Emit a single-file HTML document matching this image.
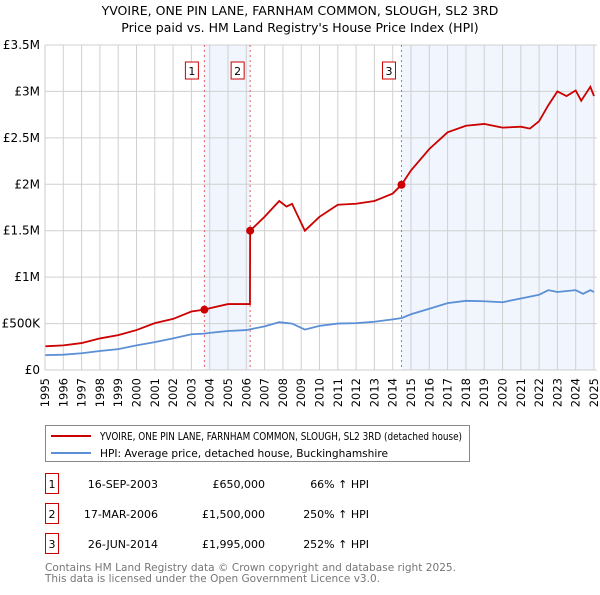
<!DOCTYPE html>
<html><head><meta charset="utf-8"><style>
body{margin:0;background:#fff;font-family:"Liberation Sans","DejaVu Sans",sans-serif}
svg text{font-family:"DejaVu Sans","Liberation Sans",sans-serif}
</style></head><body>
<svg id="c" width="600" height="590" xmlns="http://www.w3.org/2000/svg">
<text x="300" y="15" text-anchor="middle" font-size="12.5">YVOIRE, ONE PIN LANE, FARNHAM COMMON, SLOUGH, SL2 3RD</text>
<text x="300" y="32" text-anchor="middle" font-size="12.5">Price paid vs. HM Land Registry's House Price Index (HPI)</text>
<g id="plot"></g>
<g>
<rect x="45.5" y="425.5" width="424" height="36" fill="#fff" stroke="#888"/>
<line x1="51" y1="436" x2="91" y2="436" stroke="#cc0000" stroke-width="2"/>
<text x="100" y="440" font-size="10.5" textLength="362" lengthAdjust="spacingAndGlyphs">YVOIRE, ONE PIN LANE, FARNHAM COMMON, SLOUGH, SL2 3RD (detached house)</text>
<line x1="51" y1="453" x2="91" y2="453" stroke="#5b8fd6" stroke-width="2"/>
<text x="100" y="457" font-size="10.5" textLength="288" lengthAdjust="spacingAndGlyphs">HPI: Average price, detached house, Buckinghamshire</text>
</g>
<g id="table" font-size="11"></g>
<text x="45" y="571" font-size="11" fill="#777" textLength="411" lengthAdjust="spacingAndGlyphs">Contains HM Land Registry data © Crown copyright and database right 2025.</text>
<text x="45" y="582" font-size="11" fill="#777" textLength="335" lengthAdjust="spacingAndGlyphs">This data is licensed under the Open Government Licence v3.0.</text>
</svg>
<script>
const hpiYears=[1995,1996,1997,1998,1999,2000,2001,2002,2003,2003.7,2004,2005,2006,2007,2007.8,2008.5,2009.2,2010,2011,2012,2013,2014,2014.5,2015,2016,2017,2018,2019,2020,2021,2022,2022.5,2023,2024,2024.4,2024.8,2025];
const hpiValues=[160,165,180,205,225,265,300,340,385,392,400,420,430,470,515,500,435,475,500,505,520,545,560,600,660,720,745,740,730,770,810,860,840,860,820,860,840];
const redYears=[1995,1996,1997,1998,1999,2000,2001,2002,2003,2003.71,2004,2005,2006.2,2006.21,2007,2007.8,2008.2,2008.5,2009.2,2010,2011,2012,2013,2014,2014.48,2015,2016,2017,2018,2019,2020,2021,2021.5,2022,2022.5,2023,2023.5,2024,2024.3,2024.8,2025];
const redValues=[255,265,290,340,375,430,505,550,630,650,665,710,710,1500,1650,1820,1760,1790,1500,1650,1780,1790,1820,1900,1995,2150,2380,2560,2630,2650,2610,2620,2600,2680,2850,3000,2950,3010,2900,3050,2950];
const saleYears=[2003.71,2006.21,2014.48];
const saleValues=[650,1500,1995];
const saleDates=["16-SEP-2003","17-MAR-2006","26-JUN-2014"];
const salePrices=["£650,000","£1,500,000","£1,995,000"];
const saleHpi=["66% ↑ HPI","250% ↑ HPI","252% ↑ HPI"];
const yTicks=[0,500,1000,1500,2000,2500,3000,3500];
const yLabels=["£0","£500K","£1M","£1.5M","£2M","£2.5M","£3M","£3.5M"];
const xYears=[];for(let y=1995;y<=2025;y++)xYears.push(y);
const X0=45,X1=594,Y0=370,Y1=45;
const sx=v=>X0+(v-1995)/30*(X1-X0);
const sy=v=>Y0-v/3500*(Y0-Y1);
const NS="http://www.w3.org/2000/svg";
const plot=document.getElementById('plot');
function mk(t,a,p){const e=document.createElementNS(NS,t);for(const k in a)e.setAttribute(k,a[k]);(p||plot).appendChild(e);return e;}
let s1=mk('rect',{x:sx(saleYears[0]),y:Y1,width:sx(saleYears[1])-sx(saleYears[0]),height:Y0-Y1,fill:'#eef3fc',opacity:0.8});


let s2=mk('rect',{x:sx(saleYears[2]),y:Y1,width:X1-sx(saleYears[2]),height:Y0-Y1,fill:'#eef3fc',opacity:0.8});


xYears.forEach(y=>{
 let l=mk('line',{x1:sx(y),x2:sx(y),y1:Y1,y2:Y0,stroke:'#d0d0d0'});
 
 
 let t=mk('text',{x:0,y:0,'font-size':11.5,'text-anchor':'end',transform:`translate(${sx(y)+4},${Y0+8}) rotate(-90)`});
 t.textContent=y;
 
 
});
yTicks.forEach((v,i)=>{
 let l=mk('line',{x1:X0,x2:X1+3,y1:sy(v),y2:sy(v),stroke:'#d0d0d0'});
 
 
 let t=mk('text',{x:X0-5,y:sy(v)+4,'font-size':12,'text-anchor':'end'});
 t.textContent=yLabels[i];
 
 
});
saleYears.forEach((y,i)=>{
 let l=mk('line',{x1:sx(y),x2:sx(y),y1:Y1,y2:Y0,stroke:'#e06060','stroke-dasharray':'2,3'});
 
 
 let r=mk('rect',{x:sx(y)-19,y:62,width:13,height:17,fill:'#fff',stroke:'#cc0000'});
 
 
 let t=mk('text',{x:sx(y)-12.5,y:75,'font-size':11,'text-anchor':'middle'});
 t.textContent=i+1;
 
 
});
let hp=mk('polyline',{points:hpiYears.map((y,i)=>sx(y)+','+sy(hpiValues[i])).join(' '),fill:'none',stroke:'#5b8fd6','stroke-width':1.8});


let rp=mk('polyline',{points:redYears.map((y,i)=>sx(y)+','+sy(redValues[i])).join(' '),fill:'none',stroke:'#cc0000','stroke-width':1.8});


saleYears.forEach((y,i)=>{
 let c=mk('circle',{cx:sx(y),cy:sy(saleValues[i]),r:4,fill:'#cc0000'});
 
 
});
mk('line',{x1:X0,x2:X0,y1:Y1,y2:Y0,stroke:'#ccc'});
mk('line',{x1:X0,x2:X1,y1:Y0,y2:Y0,stroke:'#ccc'});
const tb=document.getElementById('table');
saleDates.forEach((d,i)=>{
 const y=487+i*30;
 let r=mk('rect',{x:45.5,y:y-13.5,width:13,height:20,fill:'#fff',stroke:'#cc0000'},tb);
 
 
 const cells=[[52,String(i+1),'middle'],[158,d,'end'],[265,salePrices[i],'end'],[369,saleHpi[i],'end']];
 cells.forEach(c=>{
  let t=mk('text',{x:c[0],y:y+1,'text-anchor':c[2]},tb);
  t.textContent=c[1];
  
  
 });
});
</script>
</body></html>
